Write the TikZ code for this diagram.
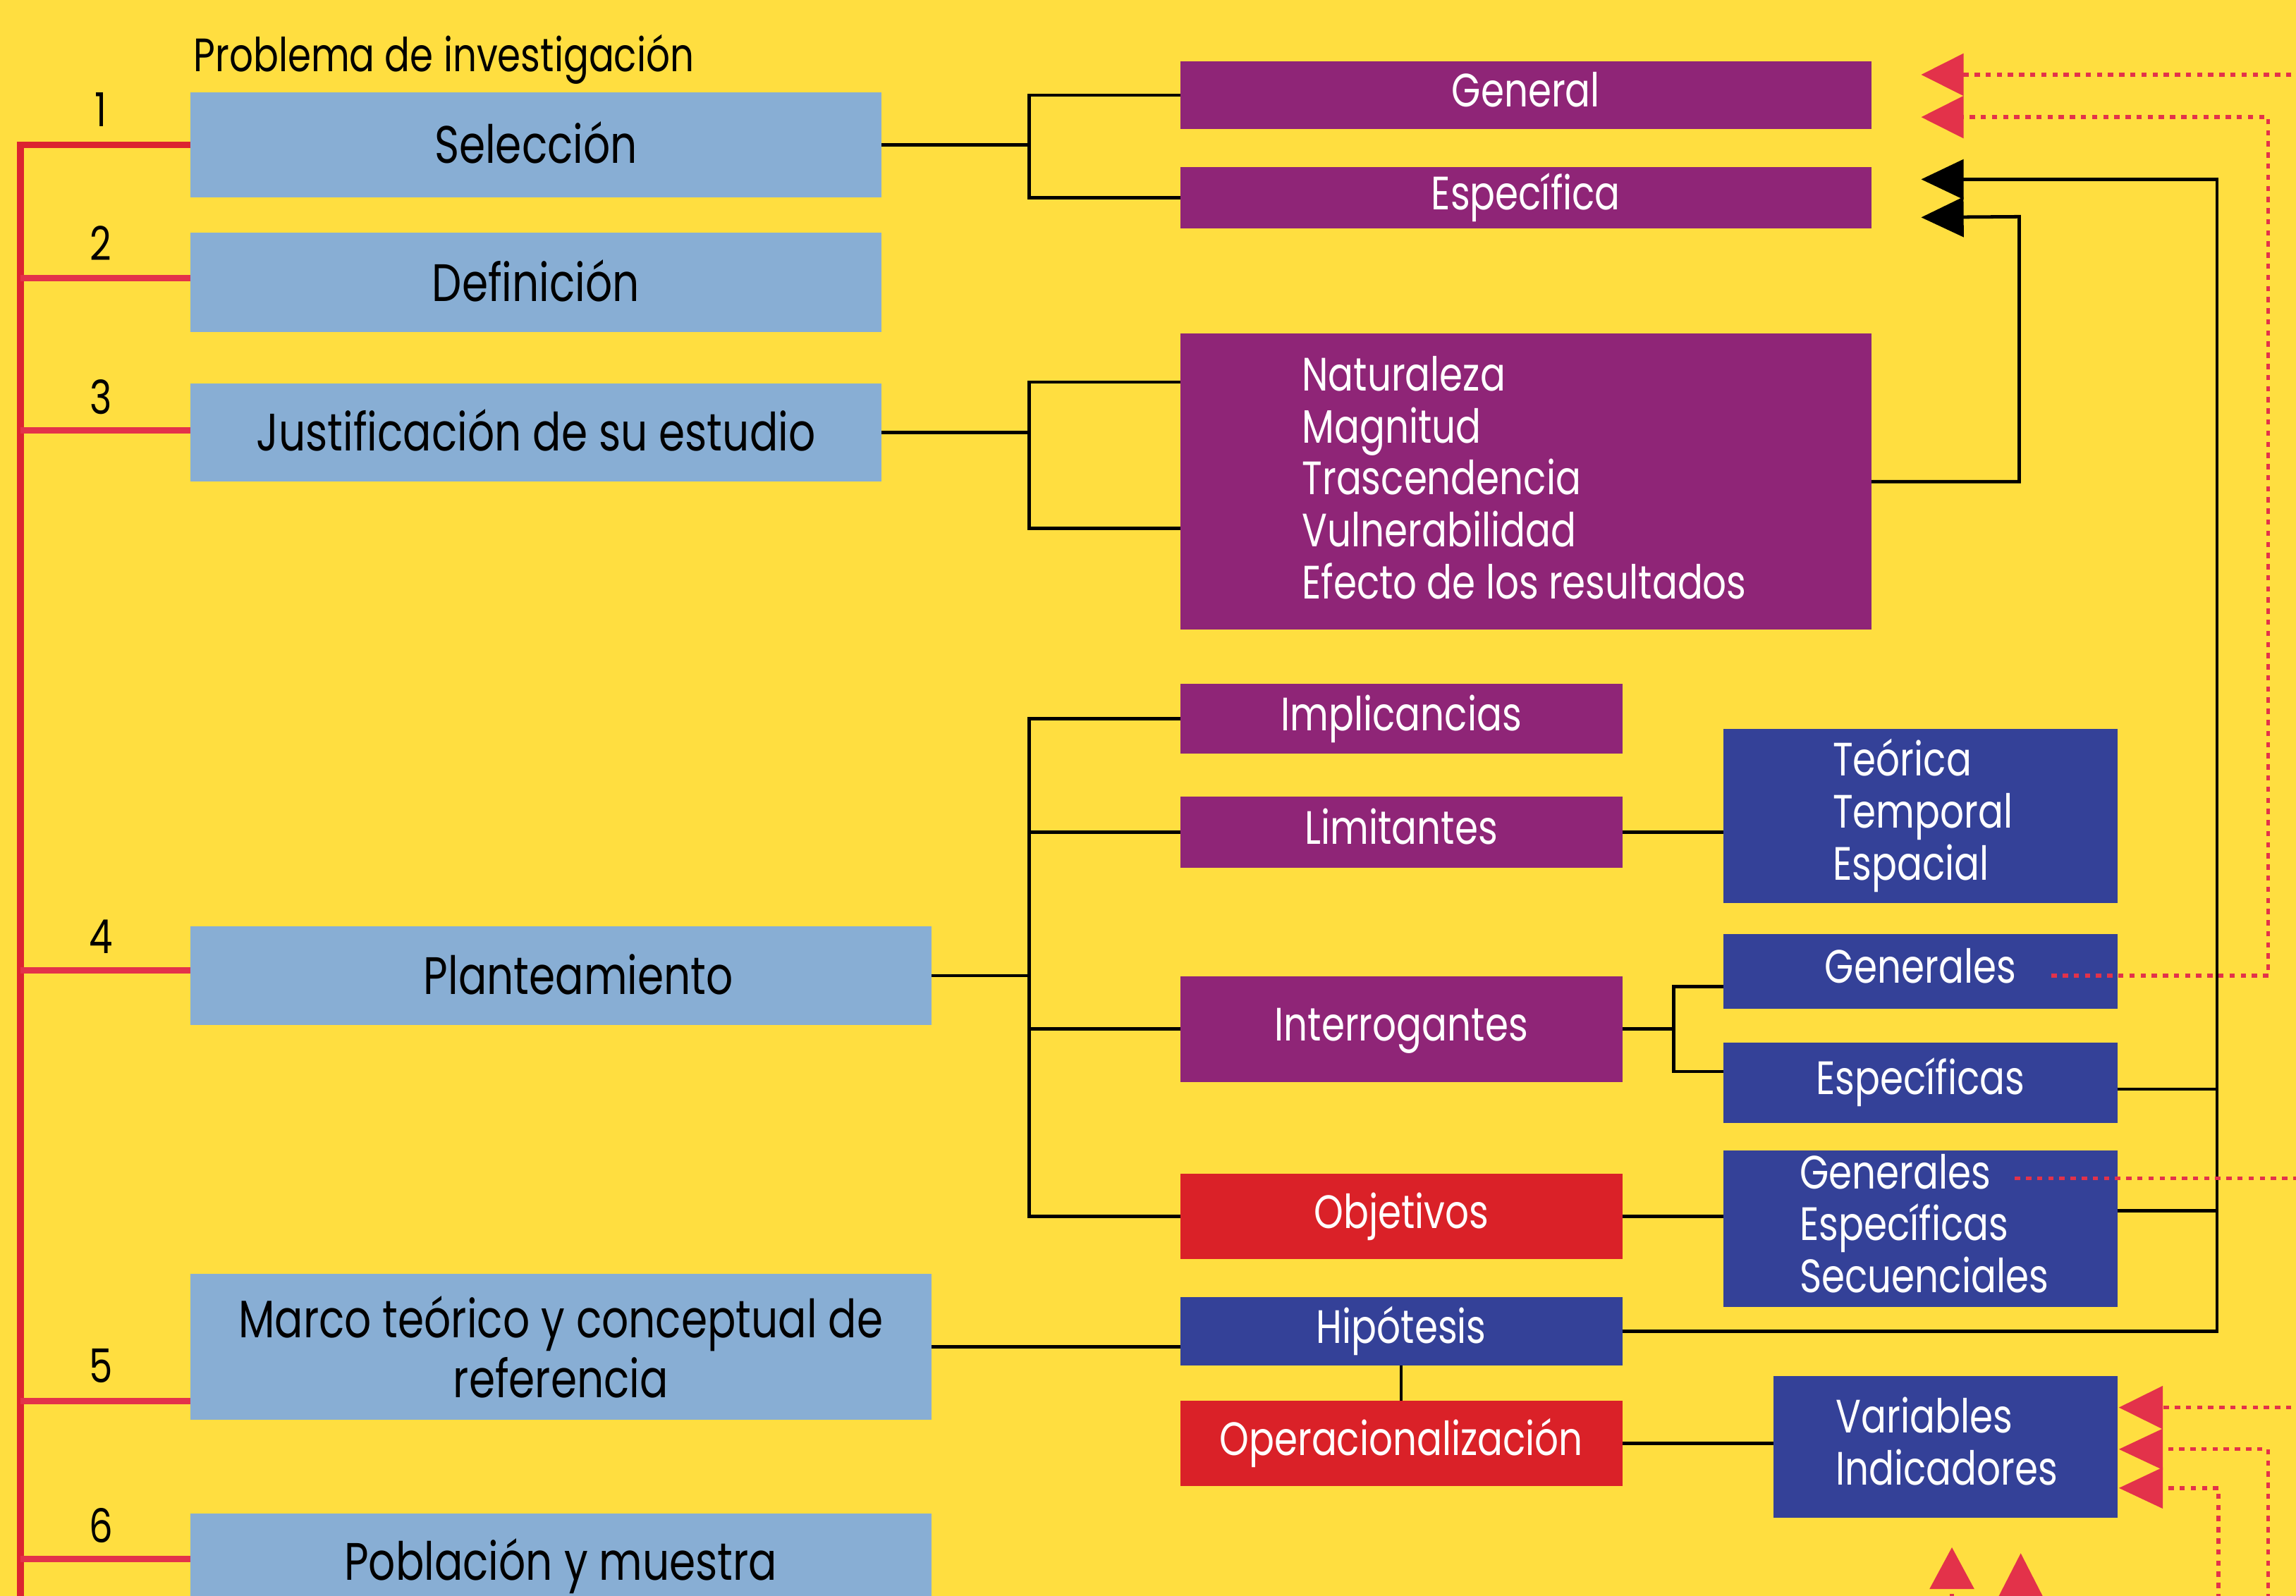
\documentclass[tikz,border=0pt]{standalone}
\usepackage{fontspec}
\setmainfont{Poppins}[FakeStretch=0.8]
\usetikzlibrary{arrows.meta}
\definecolor{bgY}{RGB}{255,222,64}
\definecolor{lblue}{RGB}{136,174,212}
\definecolor{purp}{RGB}{143,37,119}
\definecolor{dblue}{RGB}{52,65,152}
\definecolor{rbox}{RGB}{218,33,40}
\definecolor{rdot}{RGB}{227,50,74}
\definecolor{rline}{RGB}{220,36,48}
\tikzset{
  boxbase/.style={inner sep=0pt, outer sep=0pt, draw=none},
  bigbox/.style={boxbase, fill=lblue, text=black, font=\fontsize{36}{41}\selectfont},
  bigcap/.style={bigbox, text height=25.3pt, text depth=0pt},
  pbox/.style={boxbase, fill=purp, text=white, font=\fontsize{32}{35.5}\selectfont, text height=22.3pt, text depth=6pt},
  bbox/.style={pbox, fill=dblue},
  rbx/.style={pbox, fill=rbox},
  plainbox/.style={boxbase},
  wline/.style={text=white, inner sep=0pt, anchor=base west, font=\fontsize{32}{35.5}\selectfont},
  numlab/.style={inner sep=0pt, font=\fontsize{32}{32}\selectfont},
  conn/.style={draw=black, line width=2.3pt},
  spineS/.style={draw=rdot, line width=4.5pt},
  rdots/.style={draw=rdot, line width=2.6pt, dash pattern=on 3.6pt off 4pt},
  tipB/.style={-{Triangle[length=29pt,width=27pt]}},
  tipR/.style={-{Triangle[length=29pt,width=28.5pt]}},
}
\begin{document}
\begin{tikzpicture}[x=1pt,y=-1pt]
\useasboundingbox (0,0) rectangle (1568,1090);
\clip (0,0) rectangle (1568,1090);
\fill[bgY] (-5,-5) rectangle (1575,1095);

% ---------- left column ----------
\node[anchor=base west, inner sep=0pt, font=\fontsize{32}{32}\selectfont] (prob) at (132,49) {Problema de investigación};
\node[bigcap, minimum width=472pt, minimum height=72pt] (sel) at (366,99) {Selección};
\node[bigcap, minimum width=472pt, minimum height=68pt] (def) at (366,193) {Definición};
\node[bigcap, minimum width=472pt, minimum height=67pt] (jus) at (366,295.5) {Justificación de su estudio};
\node[bigcap, minimum width=506pt, minimum height=67pt] (plan) at (383,666.5) {\hspace*{24pt}Planteamiento};
\node[bigbox, minimum width=506pt, minimum height=100pt, align=center] (marco) at (383,920) {Marco teórico y conceptual de\\referencia};
\node[bigcap, minimum width=506pt, minimum height=66pt] (pob) at (383,1067) {Población y muestra};

\node[numlab] (n1) at (69,75) {1};
\node[numlab] (n2) at (69,166) {2};
\node[numlab] (n3) at (69,271) {3};
\node[numlab] (n4) at (69,640) {4};
\node[numlab] (n5) at (69,933) {5};
\node[numlab] (n6) at (69,1042) {6};

% ---------- middle column ----------
\node[pbox, minimum width=472pt, minimum height=46pt] (gen) at (1042,65) {General};
\node[pbox, minimum width=472pt, minimum height=42pt] (espf) at (1042,135) {Específica};
\node[plainbox, fill=purp, minimum width=472pt, minimum height=202pt] (nat) at (1042,329) {};
\node[wline] (nat1) at (889,267) {Naturaleza};
\node[wline] (nat2) at (889,302.5) {Magnitud};
\node[wline] (nat3) at (889,338) {Trascendencia};
\node[wline] (nat4) at (889,373.5) {Vulnerabilidad};
\node[wline] (nat5) at (889,409) {Efecto de los resultados};

\node[pbox, minimum width=302pt, minimum height=48pt] (imp) at (957,491) {Implicancias};
\node[pbox, minimum width=302pt, minimum height=49pt] (lim) at (957,568.5) {Limitantes};
\node[pbox, minimum width=302pt, minimum height=72pt] (int) at (957,703) {Interrogantes};
\node[rbx, minimum width=302pt, minimum height=58pt] (obj) at (957,831) {Objetivos};
\node[bbox, minimum width=302pt, minimum height=47pt] (hip) at (957,909.5) {Hipótesis};
\node[rbx, minimum width=302pt, minimum height=58pt] (oper) at (957,986) {Operacionalización};

% ---------- right column ----------
\node[plainbox, fill=dblue, minimum width=269pt, minimum height=119pt] (teo) at (1311.5,557.5) {};
\node[wline] (teo1) at (1251.5,530) {Teórica};
\node[wline] (teo2) at (1251.5,565.5) {Temporal};
\node[wline] (teo3) at (1251.5,601) {Espacial};
\node[bbox, minimum width=269pt, minimum height=51pt] (gnr) at (1311.5,663.5) {Generales};
\node[bbox, minimum width=269pt, minimum height=55pt] (espc) at (1311.5,739.5) {Específicas};
\node[plainbox, fill=dblue, minimum width=269pt, minimum height=107pt] (ges) at (1311.5,839.5) {};
\node[wline] (ges1) at (1229,812) {Generales};
\node[wline] (ges2) at (1229,847.5) {Específicas};
\node[wline] (ges3) at (1229,883) {Secuenciales};
\node[plainbox, fill=dblue, minimum width=235pt, minimum height=97pt] (var) at (1328.5,988.5) {};
\node[wline] (var1) at (1253.5,979) {Variables};
\node[wline] (var2) at (1253.5,1014.5) {Indicadores};

% ---------- helper coordinates ----------
\coordinate (jx) at (703,0);
\coordinate (ix) at (1143,0);
\coordinate (spB) at (14,1100);
\coordinate (bk1) at (1379,148);
\coordinate (bk2) at (1514,122.5);
\coordinate (b1tip) at (1312,122.5);
\coordinate (b2tip) at (1312,148.5);
\coordinate (r1tip) at (1312,51);
\coordinate (r2tip) at (1312,80);
\coordinate (e1) at (1580,51);
\coordinate (rc1) at (1549,80);
\coordinate (gdot) at (1401,666.5);
\coordinate (gesdot) at (1376,805);
\coordinate (e2) at (1580,805);
\coordinate (v1tip) at (1447,961.5);
\coordinate (v2tip) at (1447,990);
\coordinate (v3tip) at (1447,1016.5);
\coordinate (ve1) at (1580,961.5);
\coordinate (vb2) at (1549,1100);
\coordinate (vb3) at (1515,1100);
\coordinate (uatip) at (1333,1057);
\coordinate (uabot) at (1333,1100);
\coordinate (ubtip) at (1380,1061);
\coordinate (ubbot) at (1380,1110);

% ---------- red spine ----------
\draw[spineS, draw=rline] (sel.west) -| (spB);
\draw[spineS] ([yshift=3pt]def.west) -- ([yshift=3pt]def.west -| spB);
\draw[spineS] ([yshift=1.5pt]jus.west) -- ([yshift=1.5pt]jus.west -| spB);
\draw[spineS] ([yshift=3.5pt]plan.west) -- ([yshift=3.5pt]plan.west -| spB);
\draw[spineS] ([yshift=13pt]marco.south west) -- ([yshift=13pt]marco.south west -| spB);
\draw[spineS] ([yshift=-31pt]pob.north west) -- ([yshift=-31pt]pob.north west -| spB);

% ---------- black connectors ----------
\draw[conn] (sel.east) -- (sel.east -| jx);
\draw[conn] (gen.west) -| (sel.east -| jx) |- (espf.west);
\draw[conn] (jus.east) -- (jus.east -| jx);
\draw[conn] ([yshift=-33pt]nat.north west) -| (jus.east -| jx) |- ([yshift=69pt]nat.south west);
\draw[conn] (plan.east) -- (plan.east -| jx);
\draw[conn] (imp.west) -| (obj.west -| jx) -- (obj.west);
\draw[conn] (lim.west) -- (lim.west -| jx);
\draw[conn] (int.west) -- (int.west -| jx);
\draw[conn] (lim.east) -- (lim.east -| teo.west);
\draw[conn] (int.east) -- (int.east -| ix);
\draw[conn] ([yshift=-10.5pt]gnr.west) -| (int.east -| ix) |- ([yshift=7.5pt]espc.west);
\draw[conn] (obj.east) -- (obj.east -| ges.west);
\draw[conn] (marco.east) -- (marco.east -| hip.west);
\draw[conn, line width=1.8pt] (hip.south) -- (oper.north);
\draw[conn] (oper.east) -- (oper.east -| var.west);
\draw[conn, tipB] (nat.east) -| (bk1) -- (b2tip);
\draw[conn, tipB] (hip.east) -| (bk2) -- (b1tip);
\draw[conn] ([yshift=-4.5pt]espc.east) -- ([yshift=-4.5pt]espc.east -| bk2);
\draw[conn] ([yshift=12.5pt]ges.east) -- ([yshift=12.5pt]ges.east -| bk2);

% ---------- red dotted feedback lines ----------
\draw[rdots, tipR] (e1) -- (r1tip);
\draw[rdots, tipR] (gdot) -| (rc1) -- (r2tip);
\draw[rdots] (gesdot) -- (e2);
\draw[rdots, -{Triangle[length=30pt,width=29pt]}] (ve1) -- (v1tip);
\draw[rdots, -{Triangle[length=30pt,width=27.5pt]}] (vb2) |- (v2tip);
\draw[rdots, -{Triangle[length=30pt,width=27.5pt]}] (vb3) |- (v3tip);
\draw[rdots, -{Triangle[length=28.5pt,width=30pt]}] (uabot) -- (uatip);
\draw[rdots, -{Triangle[length=31pt,width=31pt]}] (ubbot) -- (ubtip);
\end{tikzpicture}
\end{document}
